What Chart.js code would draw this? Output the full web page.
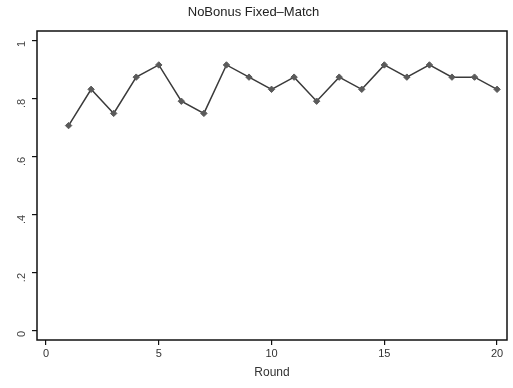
<!DOCTYPE html>
<html>
<head>
<meta charset="utf-8">
<script src="https://cdn.jsdelivr.net/npm/chart.js@4"></script>
<style>
  html, body { margin: 0; padding: 0; background: #fff; }
  #wrap { width: 513px; height: 388px; position: relative; }
</style>
</head>
<body>
<div id="wrap"><canvas id="c"></canvas></div>
<script>
// Share of matches per round, NoBonus Fixed-Match treatment
const rounds = [1, 2, 3, 4, 5, 6, 7, 8, 9, 10, 11, 12, 13, 14, 15, 16, 17, 18, 19, 20];
const shares = [0.708, 0.833, 0.750, 0.875, 0.917, 0.792, 0.750, 0.917, 0.875, 0.833,
                0.875, 0.792, 0.875, 0.833, 0.917, 0.875, 0.917, 0.875, 0.875, 0.833];
const yTicks = [0, 0.2, 0.4, 0.6, 0.8, 1];
const yTickLabels = ['0', '.2', '.4', '.6', '.8', '1'];
const xTicks = [0, 5, 10, 15, 20];

const FONT = 'Liberation Sans, Arial, sans-serif';

// Outline the plot region like a framed graph
const frame = {
  id: 'frame',
  afterDraw(chart) {
    const { ctx, chartArea: a } = chart;
    ctx.save();
    ctx.strokeStyle = '#111';
    ctx.lineWidth = 1.5;
    ctx.strokeRect(a.left, a.top, a.right - a.left, a.bottom - a.top);
    ctx.restore();
  }
};

new Chart(document.getElementById('c'), {
  type: 'line',
  data: {
    datasets: [{
      data: rounds.map((r, i) => ({ x: r, y: shares[i] })),
      borderColor: '#3a3a3a',
      borderWidth: 1.5,
      pointStyle: 'rectRot',
      pointRadius: 3.2,
      pointBackgroundColor: '#5a5a5a',
      pointBorderColor: '#5a5a5a',
      pointBorderWidth: 1,
      tension: 0
    }]
  },
  options: {
    responsive: true,
    maintainAspectRatio: false,
    animation: false,
    devicePixelRatio: 1,
    layout: { padding: { left: 0, right: 6, top: 0, bottom: 0 } },
    plugins: {
      legend: { display: false },
      tooltip: { enabled: false },
      title: {
        display: true,
        text: 'NoBonus Fixed\u2013Match',
        color: '#222',
        font: { family: FONT, size: 13, weight: 'normal' },
        padding: { top: 5, bottom: 10.4 }
      }
    },
    scales: {
      x: {
        type: 'linear',
        min: -0.4,
        max: 20.44,
        afterBuildTicks(scale) { scale.ticks = xTicks.map(v => ({ value: v })); },
        afterFit(scale) { scale.height = 48; },
        grid: { display: true, drawOnChartArea: false, drawTicks: true, tickLength: 5, color: '#111', lineWidth: 1.2 },
        border: { display: false },
        ticks: {
          color: '#333',
          font: { family: FONT, size: 11 },
          padding: 2,
          maxRotation: 0,
          autoSkip: false
        },
        title: {
          display: true,
          text: 'Round',
          color: '#333',
          font: { family: FONT, size: 12 },
          padding: { top: 2, bottom: 8 }
        }
      },
      y: {
        type: 'linear',
        min: -0.031,
        max: 1.034,
        afterBuildTicks(scale) { scale.ticks = yTicks.map(v => ({ value: v })); },
        afterFit(scale) { scale.width = 37; },
        grid: { display: true, drawOnChartArea: false, drawTicks: true, tickLength: 5, color: '#111', lineWidth: 1.2 },
        border: { display: false },
        ticks: {
          color: '#444',
          font: { family: FONT, size: 11 },
          padding: 10,
          minRotation: 90,
          maxRotation: 90,
          autoSkip: false,
          callback: (v) => {
            const i = yTicks.findIndex(t => Math.abs(t - v) < 1e-9);
            return i >= 0 ? yTickLabels[i] : '';
          }
        }
      }
    }
  },
  plugins: [frame]
});
</script>
</body>
</html>
